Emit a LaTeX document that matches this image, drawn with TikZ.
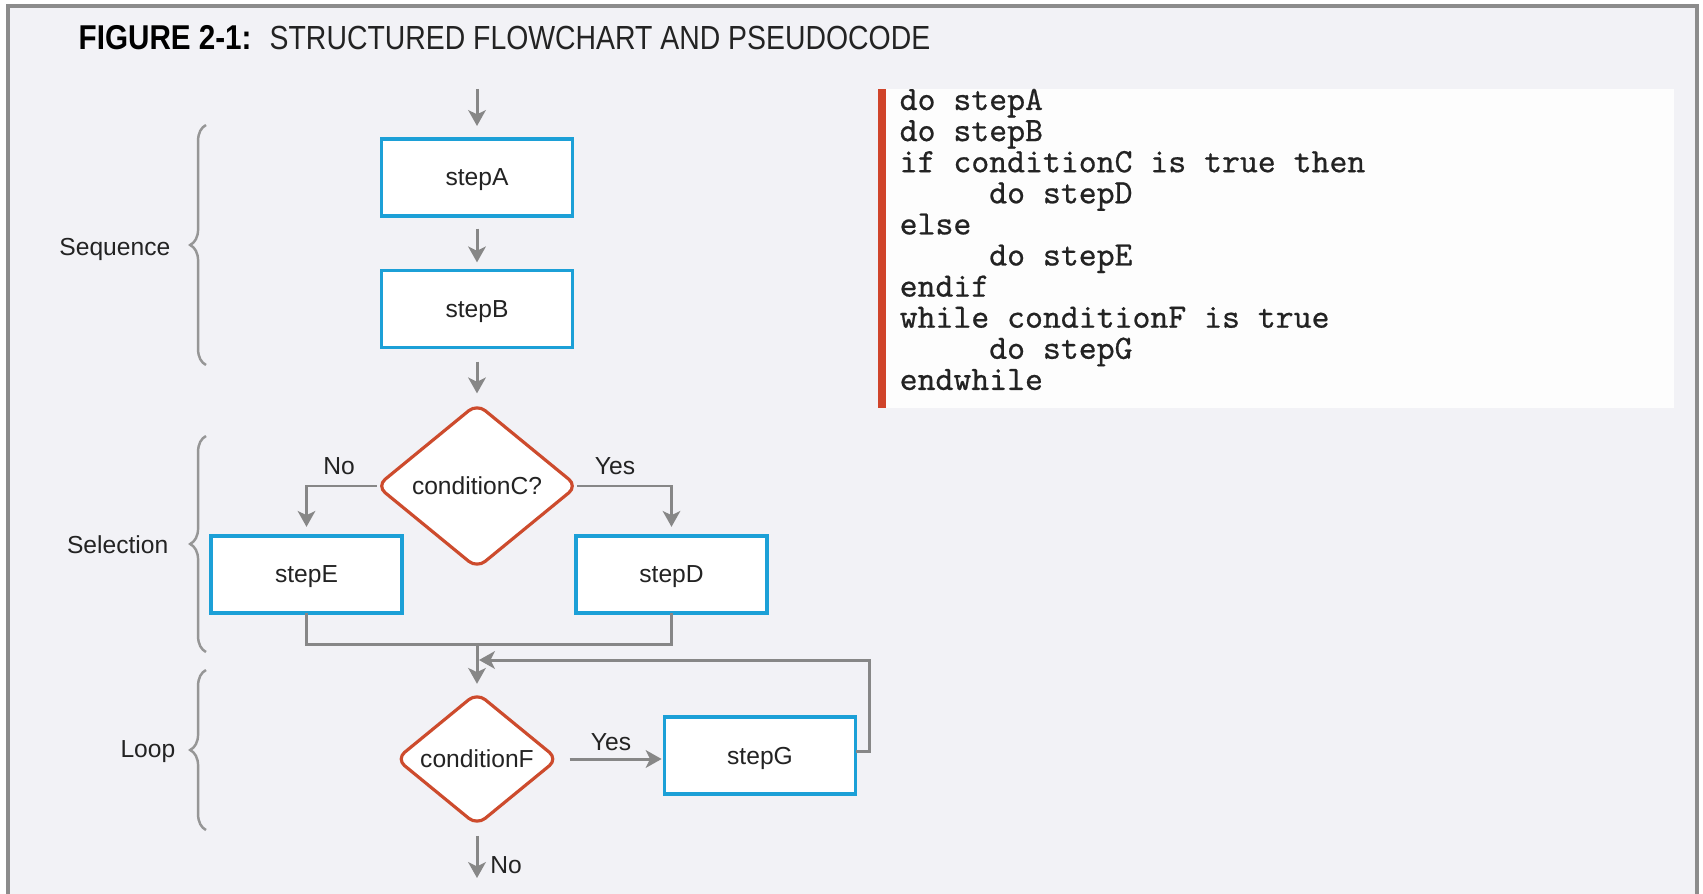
\documentclass[tikz,border=0pt]{standalone}
\usepackage{fontspec}
\setmainfont{Liberation Sans}
\newfontfamily\titlefont[FakeStretch=0.85]{Liberation Sans}
\newfontfamily\figfont[FakeStretch=0.86]{Liberation Sans}
\newfontfamily\codefont[FakeBold=0.6]{Latin Modern Mono}
\usetikzlibrary{shapes.geometric,arrows.meta,decorations.pathreplacing}
\definecolor{bgc}{RGB}{242,242,246}
\definecolor{framec}{RGB}{140,140,140}
\definecolor{boxblue}{RGB}{28,160,215}
\definecolor{diaor}{RGB}{205,75,45}
\definecolor{arrgray}{RGB}{135,135,135}
\definecolor{bracegray}{RGB}{150,150,150}
\definecolor{txt}{RGB}{35,35,35}
\definecolor{barred}{RGB}{208,68,42}
\tikzset{
  stepbox/.style={draw=boxblue,line width=0.9pt,fill=white,minimum width=1.91cm,minimum height=0.77cm,inner sep=0pt,outer sep=0pt,text depth=0pt,font=\fontsize{7}{8}\selectfont,text=txt},
  decbox/.style={shape=diamond,draw=diaor,line width=0.9pt,fill=white,rounded corners=3pt,inner sep=0pt,outer sep=0pt,font=\fontsize{7}{8}\selectfont,text=txt},
  conn/.style={draw=arrgray,line width=0.85pt},
  arr/.style={conn,-{Stealth[length=4.5pt,width=5pt,inset=1.2pt]}},
  lbl/.style={font=\fontsize{7}{8}\selectfont,text=txt,inner sep=0pt},
  codeline/.style={font=\codefont\fontsize{9.7}{10}\selectfont,text=txt,inner sep=0pt,anchor=base west},
  bracedec/.style={draw=bracegray,line width=0.7pt,decorate,decoration={brace,amplitude=4.5pt}}
}
\begin{document}
\begin{tikzpicture}[x=0.01cm,y=-0.01cm]
\useasboundingbox (0,0) rectangle (1703,894);
\fill[white] (0,0) rectangle (1703,894);
\fill[bgc] (8,6) rectangle (1697,900);
\draw[framec,line width=0.9pt] (8,900) -- (8,6) -- (1697,6) -- (1697,900);

% title
\node[inner sep=0pt,anchor=base west,text=black] (figlbl) at (78,50) {\figfont\bfseries\fontsize{9.8}{10}\selectfont FIGURE 2-1:};
\node[inner sep=0pt,anchor=base west,text=txt] (title) at (269,50) {\titlefont\fontsize{9.5}{10}\selectfont STRUCTURED FLOWCHART AND PSEUDOCODE};

% code panel
\fill[white!60!bgc!40!white] (878,89) rectangle (1674,408);
\fill[barred] (878,89) rectangle (886,408);
\foreach \t [count=\i from 0] in {do stepA,do stepB,if conditionC is true then,\hspace*{2.625em}do stepD,else,\hspace*{2.625em}do stepE,endif,while conditionF is true,\hspace*{2.625em}do stepG,endwhile}{
  \node[codeline] (code\i) at (899,110+31.1*\i) {\t};
}

% flowchart nodes
\coordinate (start) at (477,89);
\node[stepbox] (stepA) at (477,177.5) {stepA};
\node[stepbox] (stepB) at (477,309) {stepB};
\node[decbox,minimum width=2cm,minimum height=1.64cm] (condC) at (477,486) {conditionC?};
\node[stepbox] (stepE) at (306.5,574.5) {stepE};
\node[stepbox] (stepD) at (671.5,574.5) {stepD};
\coordinate (merge) at (477,644);
\node[decbox,minimum width=1.61cm,minimum height=1.32cm] (condF) at (477,759) {conditionF};
\node[stepbox] (stepG) at (760,755.5) {stepG};
\coordinate (loopin) at (479,660);
\coordinate (endpt) at (477,878);

% connectors
\draw[arr,shorten >=3.7pt] (start) -- (stepA.north);
\draw[arr,shorten <=3.6pt,shorten >=2.3pt] (stepA.south) -- (stepB.north);
\draw[arr,shorten <=4pt,shorten >=3pt] (stepB.south) -- (condC.north);
\draw[arr,shorten >=2.6pt] (condC.west) -| (stepE.north);
\draw[arr,shorten >=2.6pt] (condC.east) -| (stepD.north);
\draw[conn] (stepE.south) |- (merge) -| (stepD.south);
\draw[arr,shorten >=2.6pt] (merge) -- (condF.north);
\draw[arr,shorten <=3.4pt,shorten >=0.8pt] (condF.east) -- (condF.east -| stepG.west);
\draw[arr] ([yshift=0.04cm]stepG.east) -- ++(14,0) |- (loopin);
\draw[arr,shorten <=3.1pt] (condF.south) -- (endpt);

% connector labels
\node[lbl] (noC) at (339,466) {No};
\node[lbl] (yesC) at (615,466) {Yes};
\node[lbl] (yesF) at (611,742) {Yes};
\node[lbl] (noF) at (506,865) {No};

% braces and their labels
\draw[bracedec] (206,365) -- (206,125);
\draw[bracedec] (206,652) -- (206,436);
\draw[bracedec] (206,830) -- (206,670);
\node[lbl,anchor=east] (seq) at (171,249) {Sequence};
\node[lbl,anchor=east] (sel) at (169,545) {Selection};
\node[lbl,anchor=east] (loop) at (176,752) {Loop};
\end{tikzpicture}
\end{document}
